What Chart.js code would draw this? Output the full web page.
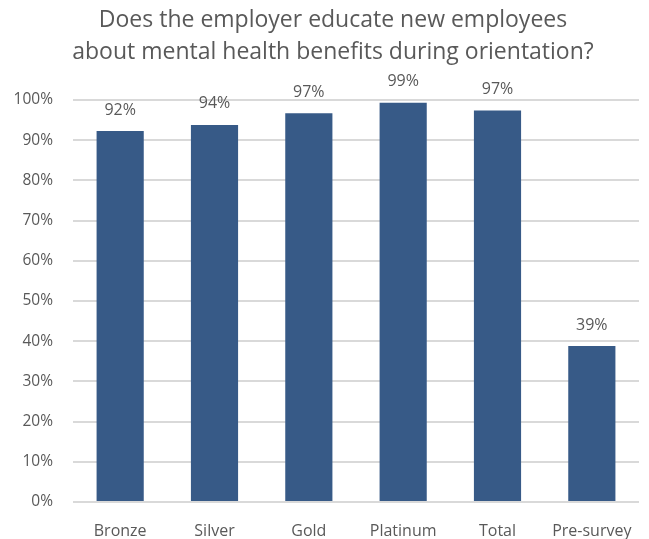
<!DOCTYPE html>
<html>
<head>
<meta charset="utf-8">
<script src="https://cdn.jsdelivr.net/npm/chart.js@4.4.0/dist/chart.umd.min.js"></script>
<style>
  html, body { margin: 0; padding: 0; background: #fff; }
  #wrap { width: 649px; height: 539px; position: relative; }
</style>
</head>
<body>
<div id="wrap"><canvas id="chart"></canvas></div>
<script>
// Share of employers covering mental health benefits at orientation, by tier
const categories = ['Bronze', 'Silver', 'Gold', 'Platinum', 'Total', 'Pre-survey'];
const shares = [92.3, 93.8, 96.7, 99.3, 97.4, 38.8];
const yTicks = [0, 10, 20, 30, 40, 50, 60, 70, 80, 90, 100];
const titleLines = ['Does the employer educate new employees', 'about mental health benefits during orientation?'];

const FONT = "'Open Sans', sans-serif";
const GREY = '#595959';

// value labels above each bar, plus the two-line heading
const overlay = {
    id: 'overlay',
    afterDatasetsDraw(chart) {
        const ctx = chart.ctx;
        const meta = chart.getDatasetMeta(0);
        ctx.save();
        ctx.font = '16px ' + FONT;
        ctx.fillStyle = GREY;
        ctx.textAlign = 'center';
        ctx.textBaseline = 'bottom';
        meta.data.forEach((bar, i) => {
            ctx.fillText(Math.round(shares[i]) + '%', bar.x, bar.y - 13);
        });

        ctx.font = '23px ' + FONT;
        ctx.textBaseline = 'middle';
        titleLines.forEach((line, i) => {
            ctx.fillText(line, 333, 20 + i * 32);
        });
        ctx.restore();
    }
};

new Chart(document.getElementById('chart'), {
    type: 'bar',
    data: {
        labels: categories,
        datasets: [{
            data: shares,
            backgroundColor: '#375A87',
            barPercentage: 0.5,
            categoryPercentage: 1.0
        }]
    },
    options: {
        responsive: true,
        maintainAspectRatio: false,
        animation: false,
        layout: { padding: { left: 0, right: 10, top: 100, bottom: 0 } },
        plugins: {
            legend: { display: false },
            tooltip: { enabled: false },
            title: { display: false }
        },
        scales: {
            y: {
                min: 0,
                max: 100,
                afterBuildTicks(axis) {
                    axis.ticks = yTicks.map(v => ({ value: v }));
                },
                afterFit(axis) { axis.width = 73; },
                grid: { color: '#d9d9d9', lineWidth: 2, drawTicks: false },
                border: { display: false },
                ticks: {
                    padding: 20,
                    color: GREY,
                    font: { family: FONT, size: 15.5 },
                    callback: v => v + '%'
                }
            },
            x: {
                afterFit(axis) { axis.height = 37; },
                grid: { display: false },
                border: { display: false },
                ticks: {
                    padding: 12,
                    color: GREY,
                    font: { family: FONT, size: 16 }
                }
            }
        }
    },
    plugins: [overlay]
});
</script>
</body>
</html>
